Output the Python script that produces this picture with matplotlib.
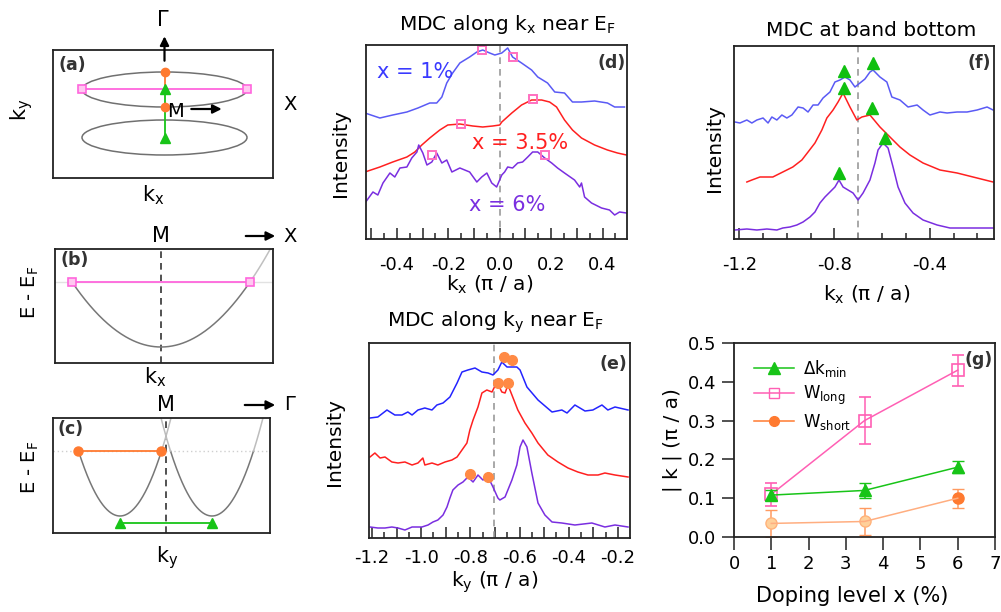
import numpy as np
import matplotlib
matplotlib.use('Agg')
import matplotlib.pyplot as plt
from matplotlib.patches import Ellipse
from matplotlib.lines import Line2D
from matplotlib.ticker import MultipleLocator, FuncFormatter, FormatStrFormatter

plt.rcParams['font.family'] = 'DejaVu Sans'
plt.rcParams['mathtext.default'] = 'regular'

W, H = 1001, 612

# ---------------- schematic parameters (a)-(c), arbitrary units ----------------
fs_center_ky = [24, -24]        # centres of the two elliptical pockets
fs_half_kx, fs_half_ky = 82.5, 17.5
band_bottom = -65               # band bottom below E_F
kf_long = 89                    # half width at E_F along kx
kf_short = 41.5                 # half width at E_F along ky
pocket_sep = 46                 # pocket centres along ky, +/- from M
dk_gap_E = -72                  # level of the green bar in (c)

# ---------------- (d) MDC along kx near EF ----------------
kd_blue = [-0.524, -0.466, -0.416, -0.361, -0.318, -0.272, -0.245, -0.225, -0.206, -0.183,
           -0.155, -0.117, -0.089, -0.066, -0.039, -0.019, 0.008, 0.031, 0.050, 0.085,
           0.124, 0.148, 0.186, 0.214, 0.252, 0.283, 0.318, 0.369, 0.419, 0.447, 0.485]
Id_blue = [126, 121, 124, 127, 131, 136, 136, 142, 156, 166,
           176, 182, 187, 189, 186, 184, 186, 191, 182, 176,
           169, 162, 156, 147, 146, 137, 137, 138, 136, 132, 132]
kd_red = [-0.524, -0.466, -0.416, -0.361, -0.330, -0.303, -0.272, -0.233, -0.202, -0.155,
          -0.105, -0.066, -0.027, 0.0, 0.008, 0.047, 0.085, 0.124, 0.163, 0.194,
          0.221, 0.252, 0.283, 0.318, 0.369, 0.419, 0.458, 0.493]
Id_red = [67, 72, 77, 82, 87, 94, 101, 109, 114, 115,
          113, 112, 113, 114, 117, 126, 134, 139, 139, 137,
          132, 119, 109, 101, 94, 89, 86, 84]
kd_purple = [-0.524, -0.493, -0.474, -0.454, -0.427, -0.408, -0.388, -0.361, -0.342, -0.322,
             -0.315, -0.299, -0.283, -0.264, -0.245, -0.225, -0.206, -0.186, -0.155, -0.117,
             -0.089, -0.070, -0.050, -0.031, -0.012, 0.008, 0.019, 0.031, 0.050, 0.070,
             0.089, 0.109, 0.128, 0.148, 0.175, 0.202, 0.225, 0.252, 0.291, 0.311,
             0.318, 0.330, 0.357, 0.396, 0.427, 0.447, 0.466, 0.493]
Id_purple = [36, 47, 44, 56, 66, 62, 71, 72, 81, 87,
             94, 86, 74, 77, 86, 76, 79, 67, 71, 67,
             57, 62, 66, 56, 52, 64, 67, 72, 71, 76,
             77, 82, 87, 87, 81, 76, 71, 66, 59, 52,
             56, 42, 36, 31, 29, 24, 27, 26]
sq_d_k = [-0.07, 0.05, -0.15, 0.128, -0.264, 0.175]
sq_d_I = [189, 182, 115, 140, 84, 84]

# ---------------- (e) MDC along ky near EF ----------------
ke_blue = [-1.208, -1.176, -1.139, -1.107, -1.078, -1.054, -1.037, -1.013, -0.985, -0.956,
           -0.936, -0.911, -0.883, -0.854, -0.834, -0.810, -0.781, -0.753, -0.728, -0.708,
           -0.688, -0.672, -0.651, -0.611, -0.598, -0.570, -0.525, -0.468, -0.428, -0.407,
           -0.375, -0.334, -0.302, -0.265, -0.241, -0.212, -0.159]
Ie_blue = [120, 121, 128, 123, 123, 126, 123, 128, 130, 128,
           133, 135, 141, 155, 166, 168, 170, 166, 165, 163,
           168, 176, 171, 171, 168, 151, 138, 126, 128, 125,
           133, 127, 128, 133, 128, 131, 128]
ke_red = [-1.208, -1.188, -1.167, -1.147, -1.119, -1.094, -1.066, -1.037, -1.013, -0.993,
          -0.985, -0.956, -0.932, -0.903, -0.875, -0.854, -0.834, -0.814, -0.802, -0.789,
          -0.769, -0.753, -0.733, -0.712, -0.692, -0.672, -0.659, -0.647, -0.631, -0.607,
          -0.578, -0.550, -0.525, -0.485, -0.444, -0.403, -0.363, -0.322, -0.281, -0.253,
          -0.212, -0.159]
Ie_red = [81, 85, 80, 81, 76, 75, 76, 73, 75, 80,
          73, 75, 73, 76, 78, 81, 88, 95, 108, 118,
          131, 145, 148, 146, 156, 146, 145, 153, 143, 128,
          115, 105, 95, 83, 76, 70, 66, 63, 63, 65,
          63, 61]
ke_purple = [-1.208, -1.176, -1.147, -1.119, -1.094, -1.066, -1.037, -0.997, -0.972, -0.952,
             -0.932, -0.911, -0.895, -0.883, -0.871, -0.850, -0.830, -0.810, -0.789, -0.769,
             -0.749, -0.728, -0.708, -0.688, -0.680, -0.659, -0.631, -0.611, -0.598, -0.586,
             -0.570, -0.550, -0.525, -0.497, -0.468, -0.428, -0.375, -0.306, -0.253, -0.212,
             -0.159]
Ie_purple = [11, 10, 10, 11, 10, 8, 11, 11, 13, 16,
             18, 23, 31, 40, 48, 53, 56, 61, 56, 63,
             58, 61, 51, 40, 38, 41, 58, 73, 91, 98,
             91, 65, 35, 23, 16, 15, 13, 15, 11, 13,
             11]
dot_e_k = [-0.663, -0.631, -0.688, -0.647, -0.802, -0.728]
dot_e_I = [181, 178, 155, 155, 64, 61]

# ---------------- (f) MDC at band bottom ----------------
kf_blue = [-1.218, -1.197, -1.168, -1.147, -1.126, -1.100, -1.079, -1.063, -1.042, -1.021,
           -1.000, -0.979, -0.953, -0.932, -0.911, -0.890, -0.869, -0.848, -0.819, -0.798,
           -0.777, -0.756, -0.735, -0.714, -0.693, -0.672, -0.651, -0.638, -0.609, -0.580,
           -0.559, -0.525, -0.491, -0.453, -0.428, -0.399, -0.357, -0.327, -0.285, -0.243,
           -0.201, -0.159, -0.134]
If_blue = [117, 116, 119, 116, 119, 121, 116, 122, 119, 124,
           121, 124, 132, 131, 127, 134, 134, 141, 147, 157,
           159, 162, 159, 152, 156, 160, 167, 169, 162, 157,
           142, 139, 132, 134, 129, 124, 127, 126, 127, 127,
           129, 132, 129]
kf_red = [-1.168, -1.147, -1.113, -1.059, -1.017, -0.975, -0.937, -0.911, -0.882, -0.853,
          -0.832, -0.806, -0.785, -0.764, -0.735, -0.706, -0.685, -0.651, -0.609, -0.567,
          -0.525, -0.483, -0.428, -0.357, -0.285, -0.218, -0.134]
If_red = [57, 59, 62, 62, 67, 72, 79, 87, 96, 109,
          121, 129, 137, 146, 132, 119, 122, 124, 112, 102,
          92, 84, 76, 69, 66, 62, 57]
kf_purple = [-1.218, -1.168, -1.126, -1.084, -1.042, -1.017, -0.987, -0.958, -0.932, -0.903,
             -0.882, -0.861, -0.840, -0.819, -0.798, -0.781, -0.764, -0.743, -0.722, -0.701,
             -0.680, -0.651, -0.630, -0.617, -0.596, -0.575, -0.554, -0.533, -0.504, -0.470,
             -0.428, -0.369, -0.315, -0.243, -0.189, -0.134]
If_purple = [9, 10, 9, 10, 9, 11, 12, 14, 17, 22,
             27, 36, 42, 47, 52, 59, 52, 49, 46, 39,
             46, 59, 76, 89, 96, 91, 72, 52, 36, 26,
             19, 14, 11, 11, 11, 11]
tri_f_k = [-0.761, -0.639, -0.761, -0.643, -0.588, -0.781]
tri_f_I = [168, 176, 151, 131, 101, 66]

# ---------------- (g) widths vs doping ----------------
doping = [1, 3.5, 6]
dk_min = [0.108, 0.12, 0.18]
dk_min_err = [0.012, 0.02, 0.015]
w_long = [0.11, 0.30, 0.43]
w_long_err = [0.03, 0.06, 0.04]
w_short = [0.035, 0.04, 0.10]
w_short_err = [0.035, 0.035, 0.025]

BLUE, RED, PURPLE = '#4a4aff', '#ff2020', '#7a2ee0'
PINK, ORANGE, GREEN = '#ff5fb4', '#ff7a30', '#18c418'
EDGE = '#222222'
TICK_FS, LAB_FS = 13, 14.5


def box(x0, y0, x1, y1):
    return [x0 / W, 1 - y1 / H, (x1 - x0) / W, (y1 - y0) / H]


def ftext(x, y, s, **kw):
    kw.setdefault('ha', 'center')
    kw.setdefault('va', 'center')
    fig.text(x / W, 1 - y / H, s, **kw)


def frame(ax):
    for sp in ax.spines.values():
        sp.set_color(EDGE)
        sp.set_linewidth(1.3)


def mdc_axes(ax, xlim, ylim, major, minor, label_every, pad):
    frame(ax)
    ax.set_xlim(xlim)
    ax.set_ylim(ylim)
    ax.set_yticks([])
    ax.xaxis.set_major_locator(MultipleLocator(major))
    ax.xaxis.set_minor_locator(MultipleLocator(minor))

    def fmt(v, p):
        r = v / label_every
        if abs(r - round(r)) > 1e-6:
            return ''
        v = 0.0 if abs(v) < 1e-9 else v
        return f'{v:.1f}'
    ax.xaxis.set_major_formatter(FuncFormatter(fmt))
    ax.tick_params(axis='x', which='major', direction='in', length=8, width=1.1,
                   pad=pad, labelsize=TICK_FS, color=EDGE)
    ax.tick_params(axis='x', which='minor', direction='in', length=4.5, width=1.1, color=EDGE)


fig = plt.figure(figsize=(W / 100, H / 100), dpi=100)

# ================= (a) =================
ax = fig.add_axes(box(53, 50, 273, 178))
frame(ax)
ax.set_xlim(-111.5, 108.5)
ax.set_ylim(-64.5, 63.5)
ax.set_xticks([]); ax.set_yticks([])
for c in fs_center_ky:
    ax.add_patch(Ellipse((0, c), 2 * fs_half_kx, 2 * fs_half_ky, fill=False, ec='#707070', lw=1.1))
ax.plot([-fs_half_kx, fs_half_kx], [fs_center_ky[0]] * 2, color='#ff66dd', lw=1.3,
        marker='s', ms=6, mfc='#ffc8f0', mec='#ff66dd', mew=1.2)
ax.plot([0, 0], [fs_center_ky[0] + fs_half_ky, fs_center_ky[0]], color=ORANGE, lw=1.3)
ax.plot([0, 0], fs_center_ky, color=GREEN, lw=1.3, marker='^', ms=7)
ax.plot([0, 0], [fs_center_ky[0] + fs_half_ky, fs_center_ky[0] - fs_half_ky], ls='none',
        marker='o', ms=6, color=ORANGE)
ax.annotate('', xy=(0, 80), xytext=(0, 50), annotation_clip=False,
            arrowprops=dict(arrowstyle='-|>', color='k', lw=1.6, mutation_scale=13))
ax.annotate('', xy=(60, 4.5), xytext=(24, 4.5), annotation_clip=False,
            arrowprops=dict(arrowstyle='-|>', color='k', lw=1.6, mutation_scale=13))
ax.text(3, 2, 'M', fontsize=14, ha='left', va='center')
ax.text(-106, 48, '(a)', fontsize=12.5, fontweight='bold', color='#333', ha='left', va='center')
ftext(163, 20, 'Γ', fontsize=15)
ftext(290, 104, 'X', fontsize=14)
ftext(22, 110, '$k_y$', fontsize=15, rotation=90)
ftext(153, 195, '$k_x$', fontsize=15)

# ================= (b) =================
ax = fig.add_axes(box(55, 249, 273, 363))
frame(ax)
ax.set_xlim(-106, 112)
ax.set_ylim(-81, 33)
ax.set_xticks([]); ax.set_yticks([])
ax.axhline(0, color='#e2e2e2', lw=1)
ax.axvline(0, color='#333', lw=1.2, ls=(0, (4, 3)))
k = np.linspace(-kf_long, kf_long, 200)
ax.plot(k, band_bottom * (1 - (k / kf_long) ** 2), color='#777', lw=1.1)
k = np.linspace(kf_long, kf_long * np.sqrt(1 - 33 / band_bottom), 50)
ax.plot(k, band_bottom * (1 - (k / kf_long) ** 2), color='#c0c0c0', lw=1.1, clip_on=False)
ax.plot([-kf_long, kf_long], [0, 0], color='#ff66dd', lw=1.3,
        marker='s', ms=6, mfc='#ffc8f0', mec='#ff66dd', mew=1.2, clip_on=False)
ax.text(-101, 22, '(b)', fontsize=12.5, fontweight='bold', color='#333', ha='left', va='center')
ax.annotate('', xy=(117, 46), xytext=(82, 46), annotation_clip=False,
            arrowprops=dict(arrowstyle='-|>', color='k', lw=1.6, mutation_scale=13))
ftext(161, 236, 'M', fontsize=15)
ftext(290, 236, 'X', fontsize=14)
ftext(30, 292, 'E - E$_F$', fontsize=14, rotation=90)
ftext(155, 377, '$k_x$', fontsize=15)

# ================= (c) =================
ax = fig.add_axes(box(53, 418, 270, 533))
frame(ax)
ax.set_xlim(-113, 104)
ax.set_ylim(-82, 33)
ax.set_xticks([]); ax.set_yticks([])
ax.axhline(0, color='#cfcfcf', lw=1, ls=(0, (1, 2)))
ax.axvline(0, color='#333', lw=1.2, ls=(0, (4, 3)))
kmax = kf_short * np.sqrt(1 - 33 / band_bottom)
for c in (-pocket_sep, pocket_sep):
    k = np.linspace(c - kf_short, c + kf_short, 200)
    ax.plot(k, band_bottom * (1 - ((k - c) / kf_short) ** 2), color='#777', lw=1.1)
    for side in ((c + kf_short, c + kmax), (c - kf_short, c - kmax)):
        if c < 0 and side[0] < c:
            continue
        k = np.linspace(*side, 40)
        ax.plot(k, band_bottom * (1 - ((k - c) / kf_short) ** 2), color='#bdbdbd', lw=1.1)
ax.plot([-pocket_sep - kf_short, -pocket_sep + kf_short], [0, 0], color=ORANGE, lw=1.3,
        marker='o', ms=6.5)
ax.plot([-pocket_sep, pocket_sep], [dk_gap_E] * 2, color=GREEN, lw=1.3, marker='^', ms=7.5)
ax.text(-108, 22, '(c)', fontsize=12.5, fontweight='bold', color='#333', ha='left', va='center')
ax.annotate('', xy=(112, 46), xytext=(76, 46), annotation_clip=False,
            arrowprops=dict(arrowstyle='-|>', color='k', lw=1.6, mutation_scale=13))
ftext(166, 405, 'M', fontsize=15)
ftext(290, 405, 'Γ', fontsize=14)
ftext(30, 467, 'E - E$_F$', fontsize=14, rotation=90)
ftext(167, 558, '$k_y$', fontsize=15)

# ================= (d) =================
ax = fig.add_axes(box(366, 45, 627, 239))
mdc_axes(ax, (-0.52, 0.495), (0, 194), 0.1, 0.05, 0.2, 12)
ax.axvline(0, color='#999', lw=1.2, ls=(0, (4, 3)))
ax.plot(kd_blue, Id_blue, color='#5a5af5', lw=1.1)
ax.plot(kd_red, Id_red, color=RED, lw=1.1)
ax.plot(kd_purple, Id_purple, color=PURPLE, lw=1.1)
ax.plot(sq_d_k, sq_d_I, ls='none', marker='s', ms=6, mfc='none', mec='#ff70c0', mew=1.4)
ax.text(-0.33, 167, 'x = 1%', color='#3a3aff', fontsize=15, ha='center', va='center')
ax.text(0.08, 96, 'x = 3.5%', color=RED, fontsize=15, ha='center', va='center')
ax.text(0.03, 34, 'x = 6%', color=PURPLE, fontsize=15, ha='center', va='center')
ax.text(0.49, 176, '(d)', fontsize=12.5, fontweight='bold', color='#333', ha='right', va='center')
ftext(507, 24, r'MDC along $k_x$ near $E_F$', fontsize=LAB_FS)
ftext(340, 153, 'Intensity', fontsize=LAB_FS, rotation=90)
ftext(490, 285, r'$k_x$ (π / a)', fontsize=LAB_FS)

# ================= (e) =================
ax = fig.add_axes(box(369, 343, 630, 538))
mdc_axes(ax, (-1.212, -0.151), (0, 195), 0.1, 0.05, 0.2, 8)
ax.axvline(-0.705, color='#999', lw=1.2, ls=(0, (4, 3)))
ax.plot(ke_blue, Ie_blue, color='#2424ff', lw=1.1)
ax.plot(ke_red, Ie_red, color=RED, lw=1.1)
ax.plot(ke_purple, Ie_purple, color=PURPLE, lw=1.1)
ax.plot(dot_e_k, dot_e_I, ls='none', marker='o', ms=7, color='#ff8a45')
ax.text(-0.163, 174, '(e)', fontsize=12.5, fontweight='bold', color='#333', ha='right', va='center')
ftext(495, 322, r'MDC along $k_y$ near $E_F$', fontsize=LAB_FS)
ftext(335, 442, 'Intensity', fontsize=LAB_FS, rotation=90)
ftext(495, 582, r'$k_y$ (π / a)', fontsize=LAB_FS)

# ================= (f) =================
ax = fig.add_axes(box(734, 46, 994, 239))
mdc_axes(ax, (-1.222, -0.130), (0, 193), 0.4, 0.1, 0.4, 12)
ax.axvline(-0.70, color='#999', lw=1.2, ls=(0, (4, 3)))
ax.plot(kf_blue, If_blue, color='#5a5af5', lw=1.1)
ax.plot(kf_red, If_red, color=RED, lw=1.1)
ax.plot(kf_purple, If_purple, color=PURPLE, lw=1.1)
ax.plot(tri_f_k, tri_f_I, ls='none', marker='^', ms=8, color='#10c010')
ax.text(-0.142, 176, '(f)', fontsize=12.5, fontweight='bold', color='#333', ha='right', va='center')
ftext(871, 30, 'MDC at band bottom', fontsize=LAB_FS)
ftext(715, 148, 'Intensity', fontsize=LAB_FS, rotation=90)
ftext(867, 295, r'$k_x$ (π / a)', fontsize=LAB_FS)

# ================= (g) =================
ax = fig.add_axes(box(734, 343, 995, 537))
frame(ax)
ax.set_xlim(0, 7)
ax.set_ylim(0, 0.5)
ax.xaxis.set_major_locator(MultipleLocator(1))
ax.yaxis.set_major_locator(MultipleLocator(0.1))
ax.yaxis.set_major_formatter(FormatStrFormatter('%.1f'))
ax.tick_params(direction='out', length=9, width=1.1, labelsize=TICK_FS, color=EDGE, pad=4)
ax.errorbar(doping, w_long, yerr=w_long_err, color=PINK, lw=1.1, marker='s', ms=8,
            mfc='none', mec=PINK, mew=1.2, capsize=4, elinewidth=1.1, zorder=3)
ax.errorbar(doping, dk_min, yerr=dk_min_err, color=GREEN, lw=1.1, marker='^', ms=8,
            capsize=4, elinewidth=1.1, zorder=4)
ax.errorbar(doping, w_short, yerr=w_short_err, color='#ffae80', lw=1.1, marker='none',
            capsize=4, ecolor='#ff9a60', elinewidth=1.1, zorder=2)
ax.plot(doping[:2], w_short[:2], ls='none', marker='o', ms=8, mfc='#ffd09a', mec='#ffb27a', zorder=2)
ax.plot(doping[2:], w_short[2:], ls='none', marker='o', ms=8, color=ORANGE, zorder=2)
handles = [Line2D([], [], color=GREEN, marker='^', ms=8, lw=1.1),
           Line2D([], [], color=PINK, marker='s', ms=7, mfc='none', lw=1.1),
           Line2D([], [], color=ORANGE, marker='o', ms=7, lw=1.1)]
ax.legend(handles, [r'$\Delta k_{min}$', r'$W_{long}$', r'$W_{short}$'], loc='upper left',
          bbox_to_anchor=(0.02, 1.0), frameon=False, fontsize=12, handlelength=2.4,
          handletextpad=0.5, labelspacing=0.3)
ax.text(6.93, 0.455, '(g)', fontsize=12.5, fontweight='bold', color='#333', ha='right', va='center')
ftext(672, 440, '| k | (π / a)', fontsize=LAB_FS, rotation=90)
ftext(852, 596, 'Doping level x (%)', fontsize=15)

fig.savefig('out.png', dpi=100)
